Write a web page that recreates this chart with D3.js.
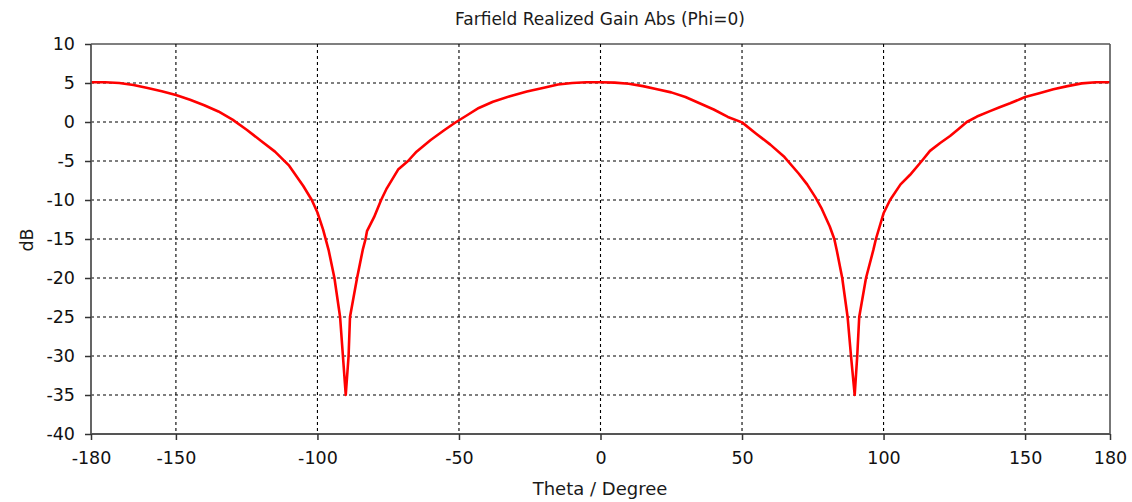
<!DOCTYPE html>
<html>
<head>
<meta charset="utf-8">
<script src="https://cdn.jsdelivr.net/npm/d3@7"></script>
<style>
  html, body { margin: 0; padding: 0; background: #fff; }
  svg { display: block; font-family: "DejaVu Sans", Verdana, sans-serif; }
</style>
</head>
<body>
<svg id="chart" width="1132" height="502"></svg>
<script>
const titleText = "Farfield Realized Gain Abs (Phi=0)";
const xLabel = "Theta / Degree";
const yLabel = "dB";
const xTicks = [-180, -150, -100, -50, 0, 50, 100, 150, 180];
const yTicks = [10, 5, 0, -5, -10, -15, -20, -25, -30, -35, -40];

const theta = [
  -180, -175, -170, -165, -160, -155, -150, -145, -140, -135, -130, -125, -120, -115, -110, -105,
  -102, -100, -98, -96, -94, -92, -91, -90, -89, -88.5, -87, -86, -84, -83, -82.5, -80, -77.5,
  -75.5, -71.5, -68, -65, -60, -55, -51, -47, -43, -38, -32, -26, -20, -15, -10, -5,
  0, 5, 10, 15, 20, 25, 30, 35, 40, 45, 50, 55, 60, 65, 70, 73, 76, 78, 81, 82.6, 83.5,
  85.4, 87.3, 88.5, 89.8, 90.7, 91.4, 93.8, 96.4, 97.3, 100, 102.3, 106, 109.3, 113.5,
  116.4, 120, 123.5, 126.5, 129.4, 133, 137.6, 141, 144.7, 150, 155, 160, 165, 170, 175, 180
];
const gain = [
  5.1, 5.1, 5.0, 4.75, 4.35, 3.95, 3.45, 2.85, 2.15, 1.35, 0.3, -1.0, -2.4, -3.8, -5.6, -8.2,
  -10.0, -11.6, -13.8, -16.5, -20, -25, -30, -35, -30, -25, -22, -20, -16.4, -15, -14, -12.2, -10,
  -8.5, -6.1, -5, -3.8, -2.3, -1.0, 0, 0.9, 1.8, 2.6, 3.3, 3.9, 4.4, 4.8, 5.0, 5.1,
  5.1, 5.05, 4.9, 4.6, 4.2, 3.8, 3.2, 2.4, 1.6, 0.65, -0.05, -1.5, -2.9, -4.5, -6.6, -8, -9.7, -11, -13.4, -15, -16.5,
  -20, -25, -30, -35, -30, -25, -20, -16.4, -15, -11.7, -10, -8, -6.8, -5,
  -3.7, -2.7, -1.8, -0.9, 0, 0.7, 1.4, 1.9, 2.4, 3.2, 3.7, 4.2, 4.6, 4.95, 5.1, 5.1
];

const svg = d3.select("#chart");
const mLeft = 91, mRight = 1110, mTop = 44, mBottom = 434;

const x = d3.scaleLinear().domain([-180, 180]).range([mLeft, mRight]);
const y = d3.scaleLinear().domain([-40, 10]).range([mBottom, mTop]);

// grid
const grid = svg.append("g");
grid.selectAll("line.vg").data(xTicks.filter(d => d > -180 && d < 180)).join("line")
  .attr("class", "vg")
  .attr("x1", d => x(d)).attr("x2", d => x(d))
  .attr("y1", mTop).attr("y2", mBottom)
  .attr("stroke", "#000").attr("stroke-width", 1.1).attr("stroke-dasharray", "3,3");
grid.selectAll("line.hg").data(yTicks.filter(d => d > -40 && d < 10)).join("line")
  .attr("class", "hg")
  .attr("x1", mLeft).attr("x2", mRight)
  .attr("y1", d => y(d)).attr("y2", d => y(d))
  .attr("stroke", "#000").attr("stroke-width", 1.1).attr("stroke-dasharray", "3,3");

// curve
const pts = theta.map((t, i) => [t, gain[i]]);
svg.append("path")
  .datum(pts)
  .attr("fill", "none")
  .attr("stroke", "#ff0000")
  .attr("stroke-width", 2.6)
  .attr("stroke-linejoin", "round")
  .attr("d", d3.line().x(d => x(d[0])).y(d => y(d[1])));

// frame
svg.append("line").attr("x1", mLeft).attr("x2", mRight).attr("y1", mTop).attr("y2", mTop)
  .attr("stroke", "#000").attr("stroke-width", 1.2);
svg.append("line").attr("x1", mLeft).attr("x2", mLeft).attr("y1", mTop).attr("y2", mBottom)
  .attr("stroke", "#555").attr("stroke-width", 1.8);
svg.append("line").attr("x1", mRight).attr("x2", mRight).attr("y1", mTop).attr("y2", mBottom)
  .attr("stroke", "#555").attr("stroke-width", 1.6);
svg.append("line").attr("x1", mLeft).attr("x2", mRight).attr("y1", mBottom).attr("y2", mBottom)
  .attr("stroke", "#555").attr("stroke-width", 1.8);

// axes
const fmt = d => d < 0 ? "-" + Math.abs(d) : String(d);
const xAxis = d3.axisBottom(x).tickValues(xTicks).tickSize(6).tickPadding(12).tickFormat(fmt);
const gx = svg.append("g").attr("transform", `translate(0,${mBottom})`).call(xAxis);
gx.select(".domain").remove();
gx.selectAll(".tick line").attr("stroke", "#333").attr("stroke-width", 1.5);
gx.selectAll(".tick text").attr("font-size", 17.5).attr("fill", "#111")
  .attr("font-family", "DejaVu Sans, sans-serif");

const yAxis = d3.axisLeft(y).tickValues(yTicks).tickSize(6).tickPadding(10).tickFormat(fmt);
const gy = svg.append("g").attr("transform", `translate(${mLeft},0)`).call(yAxis);
gy.select(".domain").remove();
gy.selectAll(".tick line").attr("stroke", "#333").attr("stroke-width", 1.5);
gy.selectAll(".tick text").attr("font-size", 17.5).attr("fill", "#111")
  .attr("font-family", "DejaVu Sans, sans-serif");

// titles
svg.append("text").attr("x", 600).attr("y", 25).attr("text-anchor", "middle")
  .attr("font-size", 17).attr("fill", "#1a1a1a").text(titleText);
svg.append("text").attr("x", 600).attr("y", 495).attr("text-anchor", "middle")
  .attr("font-size", 18).attr("fill", "#1a1a1a").text(xLabel);
svg.append("text").attr("transform", "translate(33,240) rotate(-90)").attr("text-anchor", "middle")
  .attr("font-size", 17.5).attr("fill", "#1a1a1a").text(yLabel);
</script>
</body>
</html>
